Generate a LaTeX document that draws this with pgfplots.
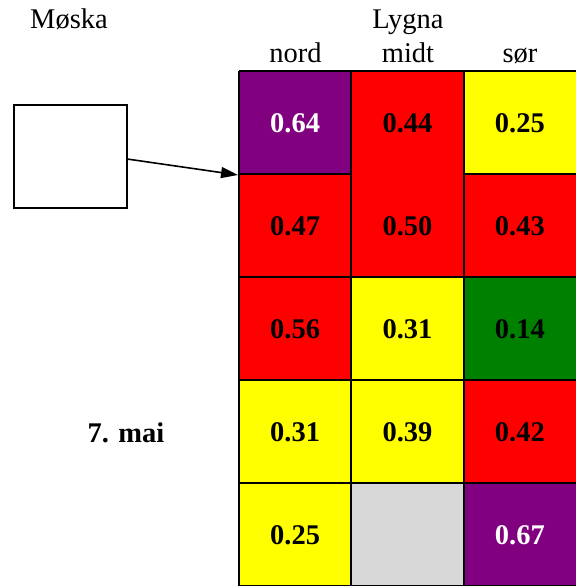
\documentclass[border=0pt]{standalone}
\usepackage{pgfplots}
\pgfplotsset{compat=1.18}
\usepackage{fontspec}
\setmainfont{Liberation Serif}
\usetikzlibrary{arrows.meta}
\newcommand{\bigfont}{\fontsize{28.5bp}{34bp}\selectfont}
\begin{document}
\begin{tikzpicture}[x=1bp,y=1bp]
\useasboundingbox (0,0) rectangle (576,586);
\begin{axis}[at={(239bp,0bp)}, anchor=south west, scale only axis,
  width=337bp, height=515bp, xmin=0, xmax=3, ymin=0, ymax=5,
  hide axis, clip=false,
  colormap={cells}{rgb255=(128,0,128) rgb255=(255,0,0) rgb255=(255,255,0) rgb255=(0,128,0) rgb255=(216,216,216)},
  colormap access=direct]
\addplot[matrix plot*, mesh/cols=3, point meta=explicit] table[meta=c] {
x y c
0.5 0.5 2
1.5 0.5 4
2.5 0.5 0
0.5 1.5 2
1.5 1.5 2
2.5 1.5 1
0.5 2.5 1
1.5 2.5 2
2.5 2.5 3
0.5 3.5 1
1.5 3.5 1
2.5 3.5 1
0.5 4.5 0
1.5 4.5 1
2.5 4.5 2
};
% black labels
\addplot[draw=none, mark=none, nodes near coords, point meta=explicit symbolic,
  every node near coord/.append style={font=\bigfont\bfseries, text=black, anchor=center, yshift=-1bp}]
  table[meta=v] {
x y v
0.5 1.5 0.31
1.5 1.5 0.39
2.5 1.5 0.42
0.5 0.5 0.25
0.5 2.5 0.56
1.5 2.5 0.31
2.5 2.5 0.14
0.5 3.5 0.47
1.5 3.5 0.50
2.5 3.5 0.43
1.5 4.5 0.44
2.5 4.5 0.25
};
% white labels
\addplot[draw=none, mark=none, nodes near coords, point meta=explicit symbolic,
  every node near coord/.append style={font=\bigfont\bfseries, text=white, anchor=center, yshift=-1bp}]
  table[meta=v] {
x y v
0.5 4.5 0.64
2.5 0.5 0.67
};
% grid lines
\addplot[black, line width=2bp, unbounded coords=jump, mark=none] coordinates {
(0,0) (3,0) (nan,nan)
(0,1) (3,1) (nan,nan)
(0,2) (3,2) (nan,nan)
(0,3) (3,3) (nan,nan)
(0,4) (1,4) (nan,nan)
(2,4) (3,4) (nan,nan)
(0,5) (3,5) (nan,nan)
(0,0) (0,5) (nan,nan)
(1,0) (1,5) (nan,nan)
(2,0) (2,5)
};
\end{axis}
\node[anchor=base, font=\bigfont] at (69,557) {Møska};
\node[anchor=base, font=\bigfont] at (408,557) {Lygna};
\node[anchor=base, font=\bigfont] at (295.5,523) {nord};
\node[anchor=base, font=\bigfont] at (408,523) {midt};
\node[anchor=base, font=\bigfont] at (520,523) {sør};
\node[anchor=base, font=\bigfont\bfseries] at (126,143) {7. mai};
\draw[line width=1.6bp] (14,378) rectangle (127,481);
\draw[line width=1.6bp, -{Triangle[length=17bp,width=11bp]}] (127,427) -- (238,411);
\end{tikzpicture}
\end{document}
